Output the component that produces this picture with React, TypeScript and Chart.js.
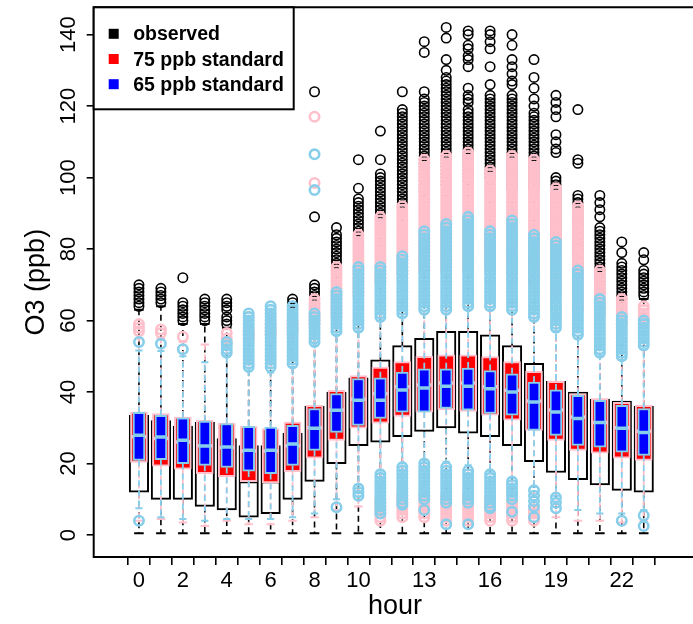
import React, { useEffect, useRef } from 'react';
import { Chart, registerables } from 'chart.js';

Chart.register(...registerables);

const W = 693;
const H = 624;
const FONT = '"Liberation Sans", Arial, Helvetica, sans-serif';

const HOURS = [0, 1, 2, 3, 4, 5, 6, 7, 8, 9, 10, 11, 12, 13, 14, 15, 16, 17, 18, 19, 20, 21, 22, 23];
const X_LABELED = [0, 2, 4, 6, 8, 10, 13, 16, 19, 22];
const Y_TICKS = [0, 20, 40, 60, 80, 100, 120, 140];
const LEGEND_LABELS = ['observed', '75 ppb standard', '65 ppb standard'];
const LEGEND_COLORS = ['#000000', '#ff0000', '#0000ff'];

// ---- observed O3 by hour (ppb) ----
const OBS_Q1 = [12, 10, 10, 8, 7, 5, 6, 10, 15, 20, 25, 26, 27.5, 29, 30, 28.5, 27.5, 25, 20.5, 17.5, 15.5, 14, 12.5, 12];
const OBS_MED = [23, 21, 20, 19, 17, 15, 15, 19, 25, 30, 35, 38, 41, 42, 43, 43, 42, 40, 36, 33, 30, 28, 27, 26];
const OBS_Q3 = [33.5, 32, 30.5, 31.5, 27, 25, 25, 28.5, 36, 40, 44, 49, 53, 55, 57, 57, 56, 53, 48, 43, 40, 38, 37.5, 36];
const OBS_LO = [0.5, 0.5, 0.5, 0.5, 0.5, 0.5, 0.5, 0.5, 0.5, 0.5, 0.5, 0.5, 0.5, 0.5, 0.5, 0.5, 0.5, 0.5, 0.5, 0.5, 0.5, 0.5, 0.5, 0.5];
const OBS_HI = [63, 64, 59, 59, 58, 55, 56, 60, 64, 73, 74, 84, 91, 95, 97, 98, 99, 96, 96, 81, 74, 67, 65, 66];
const OBS_OUT: number[][] = [
  [64, 65, 66, 67, 68, 69, 70],
  [65, 66, 67, 68, 69],
  [60, 61, 62, 63, 64, 65, 72],
  [60, 61, 62, 63, 64, 65, 66],
  [59, 60, 61, 63, 64, 65, 66],
  [56, 57, 58, 59, 60, 61],
  [57, 58, 59, 60, 61, 62],
  [61, 62, 63, 64, 65, 66],
  [65, 66, 67, 68, 69, 70, 89, 124],
  [74, 75, 76, 77, 78, 79, 80, 81, 82, 83, 84, 86],
  [75, 76, 77, 78, 79, 80, 81, 82, 83, 84, 85, 86, 87, 88, 89, 90, 91, 92, 93, 94, 97, 105],
  [85, 86, 87, 88, 89, 90, 91, 92, 93, 94, 95, 96, 97, 98, 99, 100, 101, 105, 113],
  [92, 93, 94, 95, 96, 97, 98, 99, 100, 101, 102, 103, 104, 105, 106, 107, 108, 109, 110, 111, 112, 113, 114, 115, 116, 117, 118, 119, 124],
  [96, 97, 98, 99, 100, 101, 102, 103, 104, 105, 106, 107, 108, 109, 110, 111, 112, 113, 114, 115, 116, 117, 118, 119, 120, 121, 122, 124, 135, 138],
  [98, 99, 100, 101, 102, 103, 104, 105, 106, 107, 108, 109, 110, 111, 112, 113, 114, 115, 116, 117, 118, 119, 120, 121, 122, 123, 124, 125, 126, 127, 128, 130, 133, 139, 142],
  [99, 100, 101, 102, 103, 104, 105, 106, 107, 108, 109, 110, 111, 112, 113, 114, 115, 116, 117, 118, 119, 121, 122, 123, 125, 131, 133, 134, 136, 137, 140, 141],
  [100, 101, 102, 103, 104, 105, 106, 107, 108, 109, 110, 111, 112, 113, 114, 115, 116, 117, 118, 119, 120, 121, 122, 123, 126, 131, 136, 138, 140, 141],
  [97, 98, 99, 100, 101, 102, 103, 104, 105, 106, 107, 108, 109, 110, 111, 112, 113, 114, 115, 116, 117, 118, 119, 120, 121, 122, 123, 126, 127, 129, 131, 133, 137, 140],
  [97, 98, 99, 100, 101, 102, 103, 104, 105, 106, 107, 108, 109, 110, 111, 112, 113, 114, 115, 116, 117, 118, 120, 122, 125, 128, 133],
  [82, 83, 84, 85, 86, 87, 88, 89, 90, 91, 92, 93, 94, 95, 96, 97, 98, 99, 100, 107, 108, 110, 112, 117, 119, 121, 123],
  [75, 76, 77, 78, 79, 80, 81, 82, 83, 84, 85, 86, 87, 88, 89, 90, 91, 92, 93, 94, 95, 104, 105, 119],
  [68, 69, 70, 71, 72, 73, 74, 75, 76, 77, 78, 79, 80, 81, 82, 83, 84, 85, 86, 89, 91, 93, 95],
  [66, 67, 68, 69, 70, 71, 72, 73, 74, 75, 76, 79, 82],
  [67, 68, 69, 70, 71, 72, 73, 74, 77, 79],
];

// ---- 75 ppb standard ----
const S75_Q1 = [20.3, 19.3, 18.4, 17.2, 16.3, 14.9, 14.6, 17.7, 21.5, 26.5, 29.9, 31.3, 33.2, 34.4, 35.1, 34.6, 33.5, 32.1, 29.3, 26.5, 23.7, 22.9, 21.5, 20.9];
const S75_MED = [27.5, 27, 26, 25, 24.5, 23.5, 23.5, 25, 30, 35, 38, 39.5, 41.5, 42, 42.5, 42.5, 41.5, 40.5, 37.5, 35, 33, 31.5, 30, 29];
const S75_Q3 = [34.5, 34, 33, 32.1, 31.3, 30.4, 29.8, 31.6, 36.3, 40.5, 44.6, 47, 48.5, 50, 50.4, 50.4, 49.9, 48.5, 45.8, 43, 39.6, 38.2, 37.1, 36.3];
const S75_LO = [4, 4.5, 3.5, 2.5, 4, 3, 3, 4, 5, 7, 8, 12, 12, 12, 12, 12, 11, 10, 8, 5, 4, 4, 3.5, 4];
const S75_HI = [55, 55, 54, 53.3, 52, 52, 52, 55, 58, 60, 66, 70, 72, 73, 73, 73, 74, 72, 70, 67, 62, 61, 58, 58];
const S75_OUT: number[][] = [
  [57, 58, 59],
  [56.5, 57.5],
  [55.5],
  [],
  [53.5, 55, 56.5],
  [55, 56, 57],
  [56, 57, 58, 59],
  [57, 58, 59, 60],
  [59, 60, 61, 62, 63, 64, 65, 66, 98.5, 117],
  [61, 62, 63, 64, 65, 66, 67, 68, 69, 70, 71, 72, 73, 74, 75],
  [67, 68, 69, 70, 71, 72, 73, 74, 75, 76, 77, 78, 79, 80, 81, 82, 83, 84],
  [4, 5, 6, 7, 8, 9, 10, 71, 72, 73, 74, 75, 76, 77, 78, 79, 80, 81, 82, 83, 84, 85, 86, 87, 88, 89],
  [5, 6, 7, 8, 9, 10, 11, 73, 74, 75, 76, 77, 78, 79, 80, 81, 82, 83, 84, 85, 86, 87, 88, 89, 90, 91, 92],
  [5, 6, 7, 8, 9, 10, 11, 74, 75, 76, 77, 78, 79, 80, 81, 82, 83, 84, 85, 86, 87, 88, 89, 90, 91, 92, 93, 94, 95, 96, 97, 98, 99, 100, 101, 102, 103, 104, 105],
  [4, 5, 6, 7, 8, 9, 10, 11, 74, 75, 76, 77, 78, 79, 80, 81, 82, 83, 84, 85, 86, 87, 88, 89, 90, 91, 92, 93, 94, 95, 96, 97, 98, 99, 100, 101, 102, 103, 104, 105, 106],
  [4, 5, 6, 7, 8, 9, 10, 11, 74, 75, 76, 77, 78, 79, 80, 81, 82, 83, 84, 85, 86, 87, 88, 89, 90, 91, 92, 93, 94, 95, 96, 97, 98, 99, 100, 101, 102, 103, 104, 105, 106, 107],
  [4, 5, 6, 7, 8, 9, 10, 75, 76, 77, 78, 79, 80, 81, 82, 83, 84, 85, 86, 87, 88, 89, 90, 91, 92, 93, 94, 95, 96, 97, 98, 99, 100, 101, 102],
  [4, 5, 6, 7, 8, 9, 73, 74, 75, 76, 77, 78, 79, 80, 81, 82, 83, 84, 85, 86, 87, 88, 89, 90, 91, 92, 93, 94, 95, 96, 97, 98, 99, 100, 101, 102, 103, 104, 105, 106],
  [4, 5, 6, 7, 71, 72, 73, 74, 75, 76, 77, 78, 79, 80, 81, 82, 83, 84, 85, 86, 87, 88, 89, 90, 91, 92, 93, 94, 95, 96, 97, 98, 99, 100, 101, 102, 103, 104, 105],
  [68, 69, 70, 71, 72, 73, 74, 75, 76, 77, 78, 79, 80, 81, 82, 83, 84, 85, 86, 87, 88, 89, 90, 91, 92, 93, 94, 95, 96, 97],
  [63, 64, 65, 66, 67, 68, 69, 70, 71, 72, 73, 74, 75, 76, 77, 78, 79, 80, 81, 82, 83, 84, 85, 86, 87, 88, 89, 90, 91, 92],
  [62, 63, 64, 65, 66, 67, 68, 69, 70, 71, 72, 73, 74],
  [59, 60, 61, 62, 63, 64, 65, 66],
  [60, 61, 62, 63, 64],
];

// ---- 65 ppb standard ----
const S65_Q1 = [20.9, 21.1, 20, 19.5, 18.9, 17.9, 17.2, 19.5, 23.7, 28.7, 30.7, 32.6, 34.4, 34.4, 35.4, 34.9, 34, 33.5, 29.3, 27.9, 25.1, 24.6, 23.2, 22.3];
const S65_MED = [27.9, 27.4, 26.5, 24.9, 24.6, 23.7, 23.7, 25.5, 29.9, 34.9, 37.7, 37.7, 40.6, 41.1, 41.6, 41.6, 40.9, 40, 37.2, 34.4, 32.6, 31.5, 29.9, 28.7];
const S65_Q3 = [34.3, 33.5, 32.8, 31.9, 31.2, 30.4, 30.2, 30.7, 35.4, 39.6, 43.8, 44, 45.6, 46.5, 46.5, 46.7, 46, 45.1, 42.8, 40.6, 39.1, 37.7, 36.3, 35.4];
const S65_LO = [7.5, 5, 4.5, 4, 4.5, 4.5, 4.5, 5, 6, 10, 14, 18, 20, 21, 20.5, 19.5, 18, 16, 13.5, 11, 7, 6, 6, 7];
const S65_HI = [51.6, 51.5, 50, 48.3, 50, 46, 45.5, 47, 53, 56, 57, 60, 61, 62, 62, 63, 63, 62, 60, 57, 55, 50, 49, 52];
const S65_OUT: number[][] = [
  [4, 54],
  [53.5],
  [52],
  [],
  [51, 52, 53, 54],
  [47, 48, 49, 50, 51, 52, 53, 54, 55, 56, 57, 58, 59, 60, 61, 62],
  [47, 48, 49, 50, 51, 52, 53, 54, 55, 56, 57, 58, 59, 60, 61, 62, 63, 64],
  [48, 49, 50, 51, 52, 53, 54, 55, 56, 57, 58, 59, 60, 61, 62, 63, 64],
  [54, 55, 56, 57, 58, 59, 60, 61, 62, 96.5, 106.5],
  [7.8, 57, 58, 59, 60, 61, 62, 63, 64, 65, 66, 67, 68],
  [11, 12, 13, 58, 59, 60, 61, 62, 63, 64, 65, 66, 67, 68, 69, 70, 71, 72, 73, 74, 75],
  [6, 7, 8, 9, 10, 11, 12, 13, 14, 15, 16, 17, 61, 62, 63, 64, 65, 66, 67, 68, 69, 70, 71, 72, 73, 74, 75],
  [8.5, 9, 10, 11, 12, 13, 14, 15, 16, 17, 18, 19, 62, 63, 64, 65, 66, 67, 68, 69, 70, 71, 72, 73, 74, 75, 76, 77, 78],
  [7, 10, 11, 12, 13, 14, 15, 16, 17, 18, 19, 20, 63, 64, 65, 66, 67, 68, 69, 70, 71, 72, 73, 74, 75, 76, 77, 78, 79, 80, 81, 82, 83, 84, 85],
  [3, 9, 10, 11, 12, 13, 14, 15, 16, 17, 18, 19, 63, 64, 65, 66, 67, 68, 69, 70, 71, 72, 73, 74, 75, 76, 77, 78, 79, 80, 81, 82, 83, 84, 85, 86, 87],
  [3, 9, 10, 11, 12, 13, 14, 15, 16, 17, 18, 64, 65, 66, 67, 68, 69, 70, 71, 72, 73, 74, 75, 76, 77, 78, 79, 80, 81, 82, 83, 84, 85, 86, 87, 88, 89],
  [7.5, 8, 9, 10, 11, 12, 13, 14, 15, 16, 17, 64, 65, 66, 67, 68, 69, 70, 71, 72, 73, 74, 75, 76, 77, 78, 79, 80, 81, 82, 83, 84, 85],
  [6.5, 10, 11, 12, 13, 14, 15, 63, 64, 65, 66, 67, 68, 69, 70, 71, 72, 73, 74, 75, 76, 77, 78, 79, 80, 81, 82, 83, 84, 85, 86, 87, 88],
  [5, 8, 9.5, 11, 12.5, 61, 62, 63, 64, 65, 66, 67, 68, 69, 70, 71, 72, 73, 74, 75, 76, 77, 78, 79, 80, 81, 82, 83, 84],
  [7.5, 9, 10.5, 58, 59, 60, 61, 62, 63, 64, 65, 66, 67, 68, 69, 70, 71, 72, 73, 74, 75, 76, 77, 78, 79, 80, 81, 82],
  [56, 57, 58, 59, 60, 61, 62, 63, 64, 65, 66, 67, 68, 69, 70, 71, 72, 73, 74],
  [51, 52, 53, 54, 55, 56, 57, 58, 59, 60, 61, 62, 63, 64, 65, 66],
  [4, 50, 51, 52, 53, 54, 55, 56, 57, 58, 59, 60, 61],
  [2.5, 5.5, 53, 54, 55, 56, 57, 58, 59, 60],
];

type BoxSeries = {
  q1: number[];
  med: number[];
  q3: number[];
  lo: number[];
  hi: number[];
  out: number[][];
  fill: string;
  line: string;
  boxWidth: number;
  capHalf: number;
  whiskerWidth: number;
  pointLine: number;
};

const SERIES: BoxSeries[] = [
  { q1: OBS_Q1, med: OBS_MED, q3: OBS_Q3, lo: OBS_LO, hi: OBS_HI, out: OBS_OUT, fill: '#ffffff', line: '#000000', boxWidth: 19.5, capHalf: 4.8, whiskerWidth: 1.6, pointLine: 1.6 },
  { q1: S75_Q1, med: S75_MED, q3: S75_Q3, lo: S75_LO, hi: S75_HI, out: S75_OUT, fill: '#ff0000', line: '#ffc0cb', boxWidth: 17, capHalf: 4.2, whiskerWidth: 1.8, pointLine: 2.6 },
  { q1: S65_Q1, med: S65_MED, q3: S65_Q3, lo: S65_LO, hi: S65_HI, out: S65_OUT, fill: '#0000ff', line: '#87ceeb', boxWidth: 12, capHalf: 3.6, whiskerWidth: 1.8, pointLine: 2.6 },
];

// whiskers and staples go under each box, the median bar on top of it
const boxplotParts = {
  id: 'boxplotParts',
  beforeDatasetDraw(chart: any, args: any) {
    const ds = chart.data.datasets[args.index];
    if (ds.type !== 'bar') return;
    const s = SERIES[ds.seriesIndex];
    const { ctx } = chart;
    const x = chart.scales.x;
    const y = chart.scales.y;
    ctx.save();
    ctx.strokeStyle = s.line;
    ctx.lineWidth = s.whiskerWidth;
    ctx.setLineDash([6, 4]);
    ctx.beginPath();
    HOURS.forEach((h, i) => {
      const px = x.getPixelForValue(h);
      ctx.moveTo(px, y.getPixelForValue(s.q3[i]));
      ctx.lineTo(px, y.getPixelForValue(s.hi[i]));
      ctx.moveTo(px, y.getPixelForValue(s.q1[i]));
      ctx.lineTo(px, y.getPixelForValue(s.lo[i]));
    });
    ctx.stroke();
    ctx.setLineDash([]);
    ctx.lineWidth = 2;
    ctx.beginPath();
    HOURS.forEach((h, i) => {
      const px = x.getPixelForValue(h);
      const yh = y.getPixelForValue(s.hi[i]);
      const yl = y.getPixelForValue(s.lo[i]);
      ctx.moveTo(px - s.capHalf, yh);
      ctx.lineTo(px + s.capHalf, yh);
      ctx.moveTo(px - s.capHalf, yl);
      ctx.lineTo(px + s.capHalf, yl);
    });
    ctx.stroke();
    ctx.restore();
  },
  afterDatasetDraw(chart: any, args: any) {
    const ds = chart.data.datasets[args.index];
    if (ds.type !== 'bar') return;
    const s = SERIES[ds.seriesIndex];
    const { ctx } = chart;
    const x = chart.scales.x;
    const y = chart.scales.y;
    ctx.save();
    ctx.strokeStyle = s.line;
    ctx.lineWidth = 3.5;
    ctx.beginPath();
    HOURS.forEach((h, i) => {
      const px = x.getPixelForValue(h);
      const py = y.getPixelForValue(s.med[i]);
      ctx.moveTo(px - s.boxWidth / 2 + 1, py);
      ctx.lineTo(px + s.boxWidth / 2 - 1, py);
    });
    ctx.stroke();
    ctx.restore();
  },
  afterDraw(chart: any) {
    const { ctx, chartArea } = chart;
    const y = chart.scales.y;
    const { left, top, bottom } = chartArea;
    ctx.save();

    // plot frame (the right edge lies past the canvas)
    ctx.strokeStyle = '#000';
    ctx.lineWidth = 2;
    ctx.beginPath();
    ctx.moveTo(W + 5, top);
    ctx.lineTo(left, top);
    ctx.lineTo(left, bottom);
    ctx.lineTo(W + 5, bottom);
    ctx.stroke();

    // y tick labels, written upward
    ctx.fillStyle = '#000';
    ctx.font = `22px ${FONT}`;
    ctx.textAlign = 'center';
    ctx.textBaseline = 'middle';
    Y_TICKS.forEach((v) => {
      ctx.save();
      ctx.translate(left - 25, y.getPixelForValue(v));
      ctx.rotate(-Math.PI / 2);
      ctx.fillText(String(v), 0, 0);
      ctx.restore();
    });

    // axis titles
    ctx.font = `27px ${FONT}`;
    ctx.save();
    ctx.translate(37, (top + bottom) / 2);
    ctx.rotate(-Math.PI / 2);
    ctx.fillText('O3 (ppb)', 0, 0);
    ctx.restore();
    ctx.fillText('hour', 395, 607);

    // legend
    const lw = 200;
    const lh = 102;
    ctx.fillStyle = '#fff';
    ctx.fillRect(left, top, lw, lh);
    ctx.strokeStyle = '#000';
    ctx.lineWidth = 2;
    ctx.strokeRect(left, top, lw, lh);
    ctx.font = `bold 19.5px ${FONT}`;
    ctx.textAlign = 'left';
    ctx.textBaseline = 'alphabetic';
    LEGEND_LABELS.forEach((label, i) => {
      const cy = top + 26.5 + i * 25.2;
      ctx.fillStyle = LEGEND_COLORS[i];
      ctx.fillRect(left + 15, cy - 5, 10, 10);
      ctx.fillStyle = '#000';
      ctx.fillText(label, left + 39.5, cy + 6.5);
    });
    ctx.restore();
  },
};

export default function App() {
  const canvasRef = useRef<HTMLCanvasElement | null>(null);

  useEffect(() => {
    const canvas = canvasRef.current;
    if (!canvas) return;

    const datasets: any[] = [];
    SERIES.forEach((s, si) => {
      datasets.push({
        type: 'bar',
        seriesIndex: si,
        data: HOURS.map((h, i) => ({ x: h, y: [s.q1[i], s.q3[i]] })),
        backgroundColor: s.fill,
        borderColor: s.line,
        borderWidth: 2,
        borderSkipped: false,
        barThickness: s.boxWidth,
        grouped: false,
        order: 6 - si * 2,
      });
      datasets.push({
        type: 'scatter',
        seriesIndex: si,
        data: s.out.flatMap((vals, h) => vals.map((v) => ({ x: h, y: v }))),
        showLine: false,
        pointStyle: 'circle',
        pointRadius: 4.7,
        pointBorderWidth: s.pointLine,
        borderColor: s.line,
        pointBorderColor: s.line,
        backgroundColor: 'rgba(0,0,0,0)',
        pointBackgroundColor: 'rgba(0,0,0,0)',
        order: 5 - si * 2,
      });
    });

    const chart = new Chart(canvas, {
      type: 'scatter',
      data: { datasets },
      plugins: [boxplotParts],
      options: {
        responsive: false,
        animation: false,
        devicePixelRatio: 1,
        layout: { padding: { top: 6, right: 0, bottom: 0, left: 0 } },
        plugins: { legend: { display: false }, tooltip: { enabled: false } },
        scales: {
          x: {
            type: 'linear',
            position: 'bottom',
            min: -1.5,
            max: 24.35,
            afterBuildTicks: (scale: any) => {
              scale.ticks = HOURS.map((h) => ({ value: h }));
            },
            afterFit: (scale: any) => {
              scale.height = H - 557;
            },
            ticks: {
              autoSkip: false,
              maxRotation: 0,
              minRotation: 0,
              padding: 3,
              color: '#000',
              font: { family: FONT, size: 22 },
              callback: (v: any) => (X_LABELED.includes(Number(v)) ? String(v) : ''),
            },
            grid: { drawOnChartArea: false, drawTicks: true, tickLength: 8, color: '#000', lineWidth: 1.6 },
            border: { display: false },
          },
          y: {
            type: 'linear',
            min: -6.14,
            max: 147.62,
            afterBuildTicks: (scale: any) => {
              scale.ticks = Y_TICKS.map((v) => ({ value: v }));
            },
            afterFit: (scale: any) => {
              scale.width = 93.7;
            },
            ticks: { display: false },
            grid: { drawOnChartArea: false, drawTicks: true, tickLength: 7, color: '#000', lineWidth: 1.6 },
            border: { display: false },
          },
        },
      } as any,
    });

    return () => chart.destroy();
  }, []);

  return (
    <div style={{ position: 'fixed', left: 0, top: 0, width: W, height: H, background: '#fff' }}>
      <canvas ref={canvasRef} width={W} height={H} style={{ width: W, height: H, display: 'block' }} />
    </div>
  );
}
